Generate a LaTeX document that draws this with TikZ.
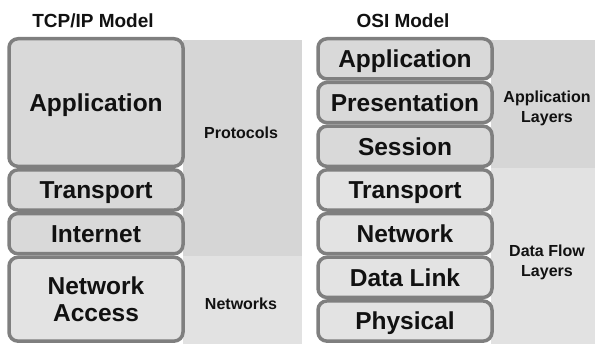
\documentclass[tikz,border=0pt]{standalone}
\usepackage{fontspec}
\setmainfont{Liberation Sans}
\definecolor{bandD}{HTML}{D6D6D6}
\definecolor{bandL}{HTML}{E2E2E2}
\definecolor{boxD}{HTML}{D9D9D9}
\definecolor{boxL}{HTML}{E3E3E3}
\definecolor{rim}{HTML}{7F7F7F}
\definecolor{ink}{HTML}{111111}
\begin{document}
\begin{tikzpicture}[x=1pt,y=-1pt,
  layer/.style={draw=rim,line width=3.5pt,rounded corners=9pt,minimum width=174pt,
    inner sep=0pt,text depth=0pt,text=ink,font=\fontsize{24.5}{27}\selectfont\bfseries,align=center},
  upper/.style={layer,fill=boxD},
  lower/.style={layer,fill=boxL},
  title/.style={text=ink,font=\fontsize{19}{22}\selectfont\bfseries,anchor=base},
  side/.style={text=ink,font=\fontsize{16}{20}\selectfont\bfseries,align=center}]
\useasboundingbox (0,0) rectangle (595,344);
% bands
\fill[bandD] (183,40) rectangle (302,256.5);
\fill[bandL] (183,256.5) rectangle (302,344);
\fill[bandD] (491,40) rectangle (595,168);
\fill[bandL] (491,168) rectangle (595,344);
% titles
\node[title] (t1) at (93,28) {TCP/IP Model};
\node[title] (t2) at (403,28) {OSI Model};
% TCP/IP
\node[upper,minimum height=127.6pt] (tapp) at (96,102.55) {Application};
\node[upper,minimum height=40.2pt] (ttra) at (96,189.95) {Transport};
\node[upper,minimum height=40.2pt] (tint) at (96,233.65) {Internet};
\node[lower,minimum height=83.9pt] (tnet) at (96,299.2) {Network\\Access};
% OSI
\node[upper,minimum height=40.2pt] (oapp) at (405,58.85) {Application};
\node[upper,minimum height=40.2pt] (opre) at (405,102.55) {Presentation};
\node[upper,minimum height=40.2pt] (oses) at (405,146.25) {Session};
\node[lower,minimum height=40.2pt] (otra) at (405,189.95) {Transport};
\node[lower,minimum height=40.2pt] (onet) at (405,233.65) {Network};
\node[lower,minimum height=40.2pt] (odl) at (405,277.35) {Data Link};
\node[lower,minimum height=40.2pt] (ophy) at (405,321.05) {Physical};
% side labels
\node[side] (proto) at (241,133) {Protocols};
\node[side] (nets) at (241,304) {Networks};
\node[side] (al) at (547,108) {Application\\Layers};
\node[side] (dfl) at (547,262) {Data Flow\\Layers};
\end{tikzpicture}
\end{document}
